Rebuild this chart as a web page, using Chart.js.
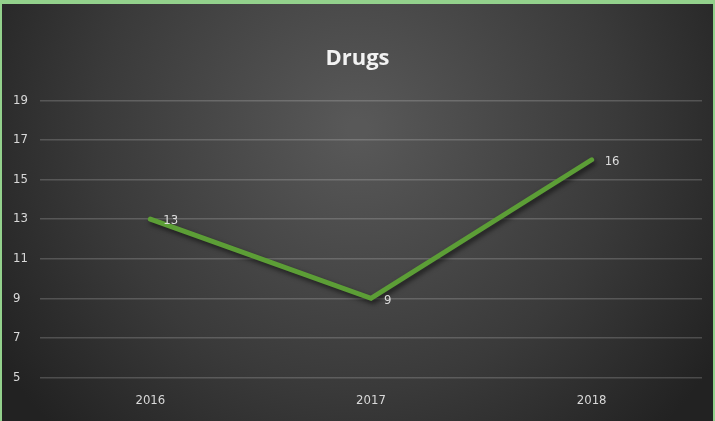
<!DOCTYPE html>
<html>
<head>
<meta charset="utf-8">
<script src="https://cdn.jsdelivr.net/npm/chart.js@4"></script>
<style>
  html, body { margin: 0; padding: 0; }
  body { width: 715px; height: 421px; background: #93d18c; overflow: hidden; }
  #wrap { position: absolute; left: 2px; top: 4px; width: 711px; height: 417px; }
</style>
</head>
<body>
<div id="wrap"><canvas id="grafico-drugs"></canvas></div>
<script>
// datos del grafico
const years = ['2016', '2017', '2018'];
const drugs = [13, 9, 16];
const yTicks = [5, 7, 9, 11, 13, 15, 17, 19];

const fuente = '"Liberation Sans Narrow", "DejaVu Sans Condensed", Lato, sans-serif';

// fondo oscuro con degradado radial
const fondo = {
  id: 'fondo',
  beforeDraw(chart) {
    const ctx = chart.ctx;
    const w = chart.width, h = chart.height;
    const g = ctx.createRadialGradient(w / 2, h * 0.3, 10, w / 2, h * 0.3, w * 0.6);
    g.addColorStop(0, '#585858');
    g.addColorStop(0.6, '#3a3a3a');
    g.addColorStop(1, '#222222');
    ctx.save();
    ctx.fillStyle = g;
    ctx.fillRect(0, 0, w, h);
    ctx.restore();
  }
};

// sombra de la linea
const sombra = {
  id: 'sombra',
  beforeDatasetsDraw(chart) {
    const ctx = chart.ctx;
    ctx.save();
    ctx.shadowColor = 'rgba(0,0,0,0.6)';
    ctx.shadowBlur = 5;
    ctx.shadowOffsetX = 2;
    ctx.shadowOffsetY = 3;
  },
  afterDatasetsDraw(chart) {
    chart.ctx.restore();
  }
};

// etiquetas de valores a la derecha de cada punto
const etiquetas = {
  id: 'etiquetas',
  afterDatasetsDraw(chart) {
    const ctx = chart.ctx;
    const meta = chart.getDatasetMeta(0);
    ctx.save();
    ctx.fillStyle = '#dcdcdc';
    ctx.font = '13px ' + fuente;
    ctx.textAlign = 'left';
    ctx.textBaseline = 'middle';
    meta.data.forEach(function (p, i) {
      ctx.fillText(String(drugs[i]), p.x + 13, p.y + 2);
    });
    ctx.restore();
  }
};

const ctx = document.getElementById('grafico-drugs');
new Chart(ctx, {
  type: 'line',
  data: {
    labels: years,
    datasets: [{
      label: 'Drugs',
      data: drugs,
      borderColor: '#5c9e36',
      backgroundColor: '#5c9e36',
      borderWidth: 5,
      borderCapStyle: 'round',
      pointRadius: 0,
      tension: 0
    }]
  },
  options: {
    responsive: true,
    maintainAspectRatio: false,
    animation: false,
    layout: { padding: { left: 11, right: 11, top: 0, bottom: -2 } },
    plugins: {
      legend: { display: false },
      tooltip: { enabled: false },
      title: {
        display: true,
        text: 'Drugs',
        color: '#f2f2f2',
        font: { family: '"Open Sans", "Noto Sans", sans-serif', size: 22, weight: 'bold' },
        padding: { top: 42, bottom: 28 }
      }
    },
    scales: {
      x: {
        offset: true,
        grid: { display: false, drawTicks: false },
        border: { display: false },
        ticks: {
          color: '#d9d9d9',
          font: { family: fuente, size: 13 },
          padding: 15
        }
      },
      y: {
        min: 5,
        max: 19,
        afterBuildTicks(scale) {
          scale.ticks = yTicks.map(v => ({ value: v }));
        },
        afterFit(scale) { scale.width = 27; },
        grid: { color: 'rgba(255,255,255,0.18)', lineWidth: 1.5, drawTicks: false },
        border: { display: false },
        ticks: {
          color: '#d9d9d9',
          font: { family: fuente, size: 13 },
          crossAlign: 'far',
          padding: 8
        }
      }
    }
  },
  plugins: [fondo, sombra, etiquetas]
});
</script>
</body>
</html>
